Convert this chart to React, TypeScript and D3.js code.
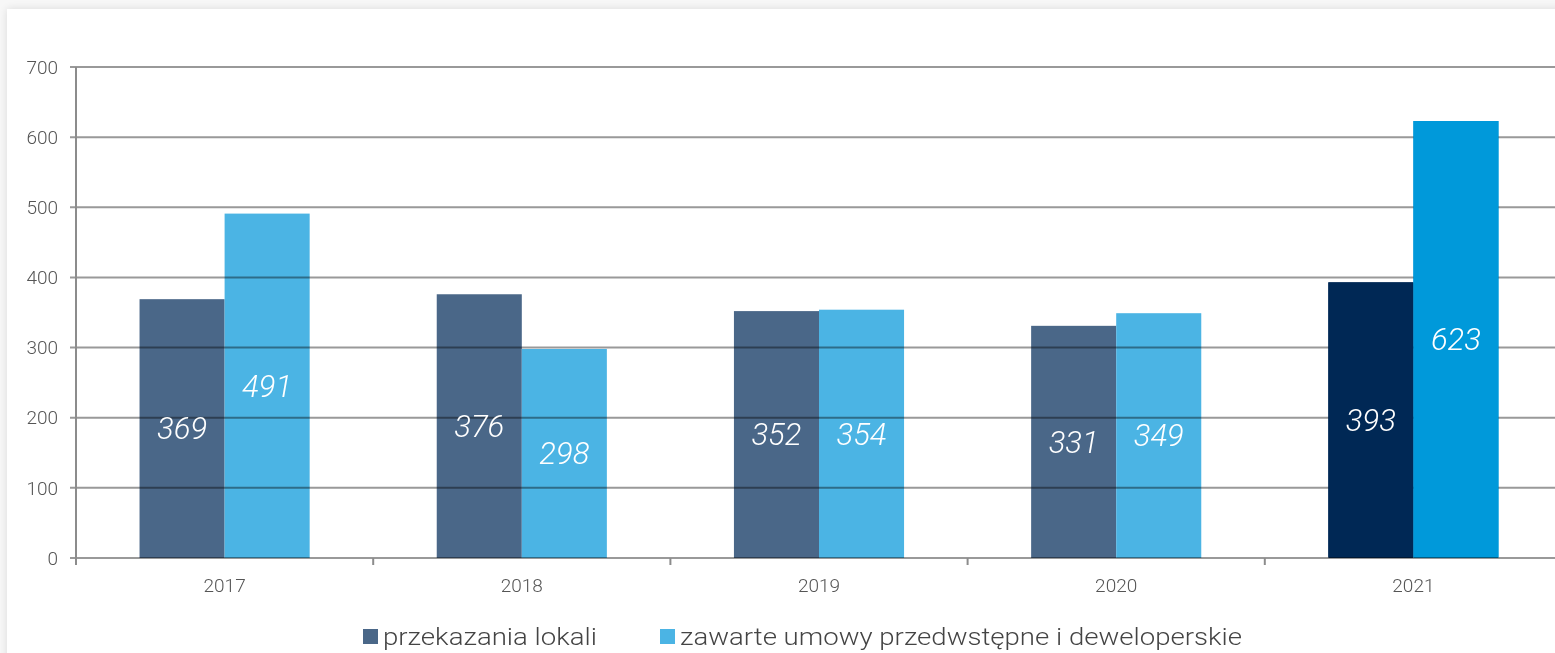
import React, { useEffect, useRef } from 'react';
import * as d3 from 'd3';

const years = ['2017', '2018', '2019', '2020', '2021'];
const seriesNames = ['przekazania lokali', 'zawarte umowy przedwstępne i deweloperskie'];
const handovers = [369, 376, 352, 331, 393];
const contracts = [491, 298, 354, 349, 623];
const yTicks = [0, 100, 200, 300, 400, 500, 600, 700];

const W = 1555;
const H = 653;
const margin = { top: 67, left: 76, bottom: 95 };

// 2021 is highlighted in stronger colours
const colorsNormal = ['#4a6788', '#4bb4e4'];
const colorsHighlight = ['#002855', '#0099da'];

export default function App() {
  const ref = useRef<SVGSVGElement>(null);

  useEffect(() => {
    const svg = d3.select(ref.current);
    svg.selectAll('*').remove();

    const plotBottom = H - margin.bottom; // 558
    const y = d3.scaleLinear().domain([0, 700]).range([plotBottom, margin.top]);
    const x = d3.scaleBand<string>().domain(years).range([margin.left, margin.left + 297.2 * 5]).padding(0);
    const xs = d3.scaleBand<number>().domain([0, 1]).range([0, x.bandwidth()]).paddingInner(0).paddingOuter(0.747);

    // card background with soft shadow
    const defs = svg.append('defs');
    const f = defs.append('filter').attr('id', 'shadow').attr('x', '-5%').attr('y', '-5%').attr('width', '110%').attr('height', '110%');
    f.append('feGaussianBlur').attr('in', 'SourceAlpha').attr('stdDeviation', 4);
    f.append('feOffset').attr('dx', 0).attr('dy', 0).attr('result', 'b');
    f.append('feComponentTransfer').append('feFuncA').attr('type', 'linear').attr('slope', 0.12);
    const m = f.append('feMerge');
    m.append('feMergeNode');
    m.append('feMergeNode').attr('in', 'SourceGraphic');

    svg.append('rect').attr('width', W).attr('height', H).attr('fill', '#f7f7f7');
    svg.append('rect').attr('x', 7).attr('y', 9).attr('width', W + 20).attr('height', H + 20)
      .attr('fill', '#fff').attr('filter', 'url(#shadow)');

    // bars
    const g = svg.append('g');
    years.forEach((yr, i) => {
      const vals = [handovers[i], contracts[i]];
      const hl = i === years.length - 1;
      vals.forEach((v, j) => {
        g.append('rect')
          .attr('x', x(yr)! + xs(j)!)
          .attr('y', y(v))
          .attr('width', xs.bandwidth())
          .attr('height', y(0) - y(v))
          .attr('fill', hl ? colorsHighlight[j] : colorsNormal[j]);
      });
    });

    // gridlines (show through the normal bars, hidden behind 2021)
    const grid = svg.append('g').style('mix-blend-mode', 'multiply');
    yTicks.forEach(t => {
      grid.append('line')
        .attr('x1', margin.left - 6).attr('x2', W)
        .attr('y1', y(t)).attr('y2', y(t))
        .attr('stroke', '#999').attr('stroke-width', 2);
    });
    // re-draw 2021 over the grid
    const hlYear = years[years.length - 1];
    [handovers[4], contracts[4]].forEach((v, j) => {
      svg.append('rect')
        .attr('x', x(hlYear)! + xs(j)!)
        .attr('y', y(v))
        .attr('width', xs.bandwidth())
        .attr('height', y(0) - y(v) - 1)
        .attr('fill', colorsHighlight[j]);
    });

    // y axis
    svg.append('line').attr('x1', margin.left).attr('x2', margin.left)
      .attr('y1', y(700)).attr('y2', y(0) + 6)
      .attr('stroke', '#8c8c8c').attr('stroke-width', 2);
    svg.append('g').selectAll('text').data(yTicks).enter().append('text')
      .attr('x', 58).attr('y', d => y(d)).attr('dy', '0.35em')
      .attr('text-anchor', 'end')
      .attr('font-family', 'Roboto').attr('font-weight', 300).attr('font-size', 19)
      .attr('fill', '#555')
      .text(d => d);

    // x axis ticks at band edges
    const edges = years.map(d => x(d)!).concat([x.range()[1]]);
    edges.forEach(e => {
      svg.append('line').attr('x1', e).attr('x2', e).attr('y1', y(0)).attr('y2', y(0) + 7)
        .attr('stroke', '#8c8c8c').attr('stroke-width', 2);
    });
    svg.append('g').selectAll('text').data(years).enter().append('text')
      .attr('x', d => x(d)! + x.bandwidth() / 2).attr('y', y(0) + 34)
      .attr('text-anchor', 'middle')
      .attr('font-family', 'Roboto').attr('font-weight', 300).attr('font-size', 19)
      .attr('fill', '#555')
      .text(d => d);

    // value labels inside bars
    years.forEach((yr, i) => {
      [handovers[i], contracts[i]].forEach((v, j) => {
        svg.append('text')
          .attr('x', x(yr)! + xs(j)! + xs.bandwidth() / 2)
          .attr('y', (y(v) + y(0)) / 2)
          .attr('dy', '0.35em')
          .attr('text-anchor', 'middle')
          .attr('font-family', 'Roboto').attr('font-weight', 300).attr('font-style', 'italic')
          .attr('font-size', 31).attr('fill', '#fff')
          .text(v);
      });
    });

    // legend
    const legend = [
      { x: 363, w: 214 },
      { x: 660, w: 562 },
    ];
    legend.forEach((l, j) => {
      svg.append('rect').attr('x', l.x).attr('y', 629).attr('width', 15).attr('height', 15).attr('fill', colorsNormal[j]);
      svg.append('text').attr('x', l.x + 20).attr('y', 645)
        .attr('font-family', 'Roboto').attr('font-weight', 300).attr('font-size', 24)
        .attr('fill', '#444')
        .attr('textLength', l.w).attr('lengthAdjust', 'spacingAndGlyphs')
        .text(seriesNames[j]);
    });
  }, []);

  return (
    <svg ref={ref} width={W} height={H} style={{ position: 'absolute', left: 0, top: 0 }} />
  );
}
